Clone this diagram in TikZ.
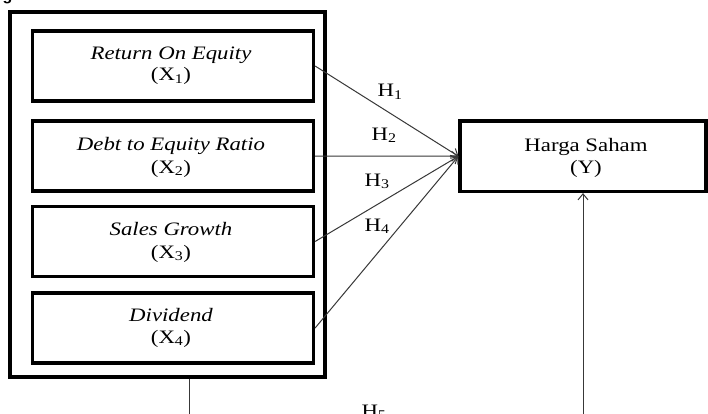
\documentclass[tikz,border=0pt]{standalone}
\usepackage{fontspec}
\setmainfont{Liberation Serif}[FakeStretch=1.2]
\newfontfamily\headfont{Liberation Sans}
\usetikzlibrary{arrows.meta,calc}
\begin{document}
\begin{tikzpicture}[x=1pt,y=-1pt,
  font=\fontsize{19}{22}\selectfont,
  thickbox/.style={draw=black,line width=3.2pt,rectangle,inner sep=0pt},
  varbox/.style={thickbox,minimum width=281pt,minimum height=70pt},
  lbl/.style={anchor=base,inner sep=0pt},
  conn/.style={draw=black!78,line width=1pt},
  arr/.style={conn,-{Straight Barb[length=6pt,width=10pt,line width=1pt]}}
]
\useasboundingbox (0,0) rectangle (708,414);
\clip (0,0) rectangle (708,414);
\fill[white] (0,0) rectangle (708,414);
% partial heading glyph
\node[lbl,font=\headfont\bfseries\fontsize{16}{18}\selectfont] (head) at (7.5,0.5) {g};
% outer group box
\node[thickbox,minimum width=315pt,minimum height=365pt] (outer) at (167.5,194.5) {};
% variable boxes
\node[varbox] (b1) at (173,66) {};
\node[varbox] (b2) at (173,156) {};
\node[varbox] (b3) at (173,241.5) {};
\node[varbox] (b4) at (173,328) {};
\node[thickbox,minimum width=246pt,minimum height=70.5pt] (y) at (583,156.25) {};
% texts
\node[lbl] (t1a) at (171,60) {\itshape Return On Equity};
\node[lbl] (t1b) at (171,81) {(X\textsubscript{1})};
\node[lbl] (t2a) at (171,150) {\itshape Debt to Equity Ratio};
\node[lbl] (t2b) at (171,173) {(X\textsubscript{2})};
\node[lbl] (t3a) at (171,235) {\itshape Sales Growth};
\node[lbl] (t3b) at (171,258) {(X\textsubscript{3})};
\node[lbl] (t4a) at (171,321) {\itshape Dividend};
\node[lbl] (t4b) at (171,343) {(X\textsubscript{4})};
\node[lbl] (tya) at (586,151) {Harga Saham};
\node[lbl] (tyb) at (586,173) {(Y)};
% arrows
\draw[arr] (b1.east) -- (y.west);
\draw[arr] (b2.east) -- (y.west);
\draw[arr] (b3.east) -- (y.west);
\draw[arr] (b4.east) -- (y.west);
\coordinate (d0) at (189,377);
\coordinate (d1) at (189,440);
\coordinate (d2) at (y.south |- d1);
\draw[arr] (outer.south -| d0) -- (d1) -- (d2) -- (y.south);
% hypothesis labels
\node[lbl] (h1) at (390,97) {H\textsubscript{1}};
\node[lbl] (h2) at (384,140) {H\textsubscript{2}};
\node[lbl] (h3) at (377,186) {H\textsubscript{3}};
\node[lbl] (h4) at (377,231) {H\textsubscript{4}};
\node[lbl] (h5) at (374,417) {H\textsubscript{5}};
\end{tikzpicture}
\end{document}
